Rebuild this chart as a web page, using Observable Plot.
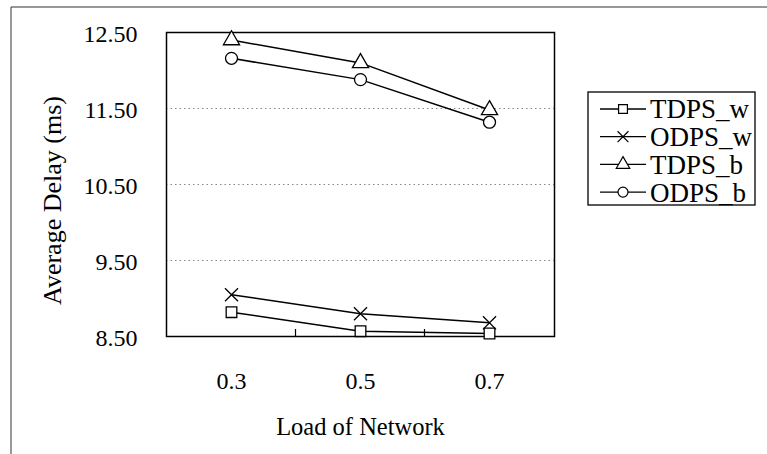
<!DOCTYPE html>
<html>
<head>
<meta charset="utf-8">
<script src="https://cdn.jsdelivr.net/npm/d3@7"></script>
<script src="https://cdn.jsdelivr.net/npm/@observablehq/plot@0.6"></script>
<style>
  html, body { margin: 0; padding: 0; background: #fff; }
  #chart { width: 767px; height: 454px; position: relative; }
  #chart text { font-family: "Liberation Serif", serif !important; }
</style>
</head>
<body>
<div id="chart"></div>
<script>
const loads = ["0.3", "0.5", "0.7"];
const seriesNames = ["TDPS_w", "ODPS_w", "TDPS_b", "ODPS_b"];
const seriesSymbols = ["square", "times", "triangle", "circle"];
const TDPS_w = [8.82, 8.57, 8.54];
const ODPS_w = [9.05, 8.80, 8.68];
const TDPS_b = [12.40, 12.10, 11.48];
const ODPS_b = [12.16, 11.88, 11.32];
const yTicks = [8.5, 9.5, 10.5, 11.5, 12.5];
const gridValues = [9.5, 10.5, 11.5];

const seriesValues = [TDPS_w, ODPS_w, TDPS_b, ODPS_b];
const data = [];
seriesNames.forEach((name, i) => {
  loads.forEach((l, j) => data.push({series: name, load: l, value: seriesValues[i][j]}));
});

const font = "Liberation Serif";

const plot = Plot.plot({
  width: 767,
  height: 454,
  marginLeft: 166,
  marginRight: 213,
  marginTop: 32,
  marginBottom: 118,
  style: {fontFamily: font, fontSize: "24px", background: "white", color: "black"},
  x: {type: "point", domain: loads, padding: 0.5},
  y: {domain: [8.5, 12.5]},
  symbol: {domain: seriesNames, range: seriesSymbols},
  marks: [
    Plot.ruleY(gridValues, {stroke: "#888", strokeDasharray: "1.5,3", strokeWidth: 1}),
    Plot.frame({stroke: "black", strokeWidth: 1.5}),
    Plot.axisY(yTicks, {tickSize: 0, tickPadding: 29, dy: 2, tickFormat: d3.format(".2f"), label: null, fontSize: 24, fontFamily: font}),
    Plot.axisX({tickSize: 0, tickPadding: 35, label: null, fontSize: 24, fontFamily: font}),
    Plot.line(data, {x: "load", y: "value", z: "series", stroke: "black", strokeWidth: 1.5}),
    Plot.dot(data, {x: "load", y: "value", symbol: "series", r: 6, stroke: "black", fill: "white", strokeWidth: 1.3}),
    Plot.text(["Load of Network"], {frameAnchor: "bottom", dy: 98, fontSize: 24.5, fontFamily: font}),
    Plot.text(["Average Delay (ms)"], {frameAnchor: "left", textAnchor: "middle", dx: -114, dy: 16, rotate: -90, fontSize: 26, fontFamily: font})
  ]
});

document.getElementById("chart").appendChild(plot);

// decorations: outer border (left/top), x band-boundary ticks, legend
const svg = d3.select(plot);
svg.insert("path", ":first-child")
  .attr("d", "M11,460V7H767")
  .attr("fill", "none").attr("stroke", "#333").attr("stroke-width", 1);

const xs = plot.scale("x");
const step = xs.apply(loads[1]) - xs.apply(loads[0]);
const yBottom = 454 - 118;
for (let i = 0; i < loads.length - 1; i++) {
  const bx = xs.apply(loads[i]) + step / 2;
  svg.append("line").attr("x1", bx).attr("x2", bx).attr("y1", yBottom).attr("y2", yBottom - 7)
    .attr("stroke", "black").attr("stroke-width", 1.2);
}

const lg = svg.append("g").attr("font-family", font).attr("font-size", 27).attr("text-anchor", "start");
lg.append("rect").attr("x", 588).attr("y", 92).attr("width", 167).attr("height", 113)
  .attr("fill", "white").attr("stroke", "black").attr("stroke-width", 1.3);
seriesNames.forEach((name, i) => {
  const cy = 109 + i * 27.7;
  lg.append("line").attr("x1", 600).attr("x2", 646).attr("y1", cy).attr("y2", cy)
    .attr("stroke", "black").attr("stroke-width", 1.3);
  const symType = {square: d3.symbolSquare, times: d3.symbolTimes, triangle: d3.symbolTriangle, circle: d3.symbolCircle}[seriesSymbols[i]];
  lg.append("path").attr("d", d3.symbol(symType, 5 * 5 * Math.PI)())
    .attr("transform", `translate(623,${cy})`)
    .attr("fill", "white").attr("stroke", "black").attr("stroke-width", 1.2);
  lg.append("text").attr("x", 650).attr("y", cy).attr("dy", "0.35em").attr("text-anchor", "start").text(name);
});
</script>
</body>
</html>
